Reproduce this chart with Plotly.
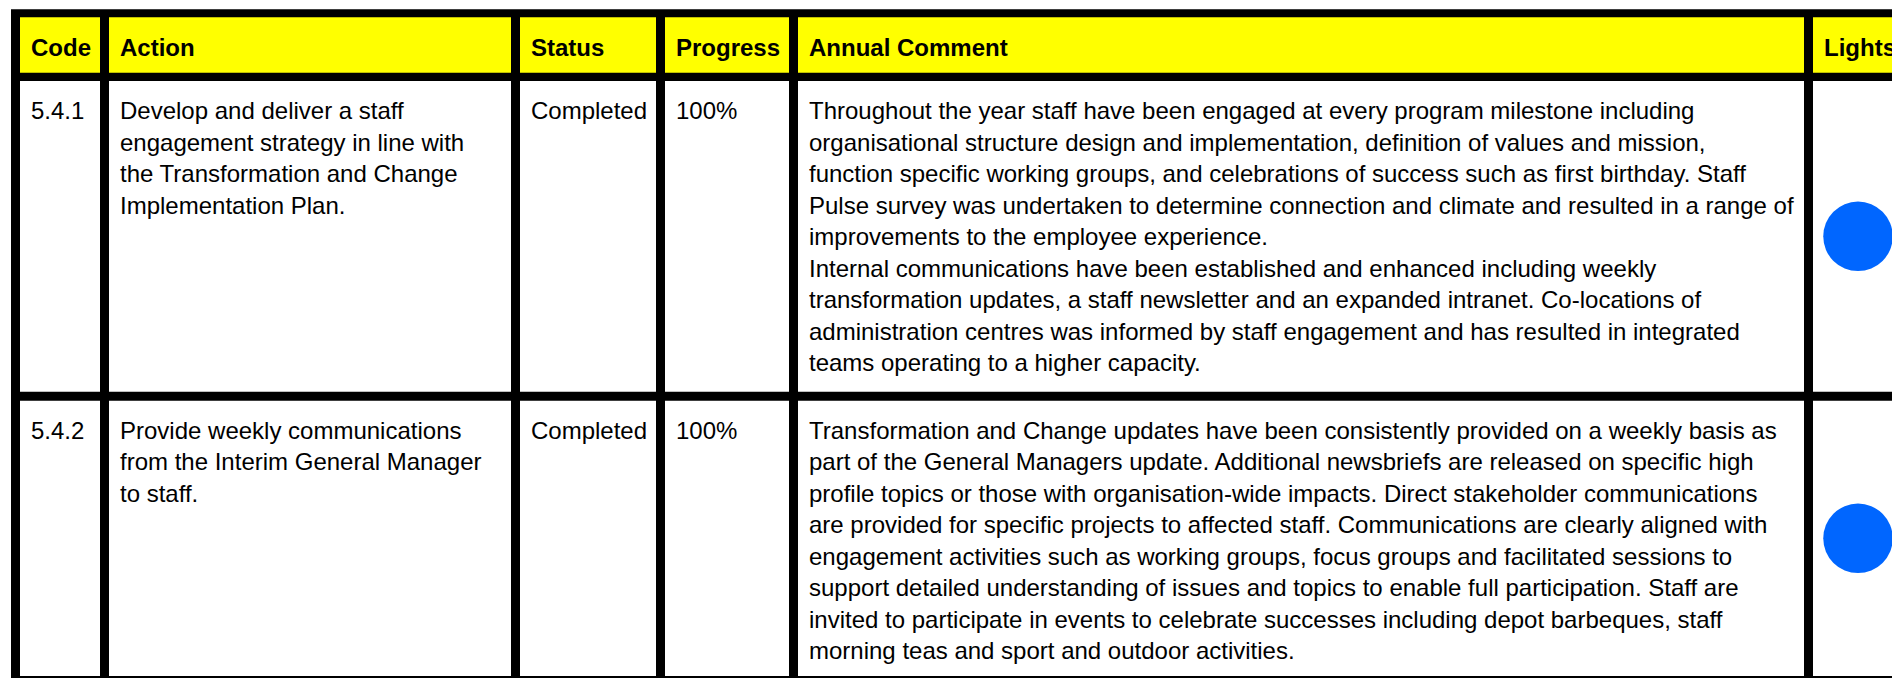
import plotly.graph_objects as go

# ---------------- data ----------------
headers = ["Code", "Action", "Status", "Progress", "Annual Comment", "Lights"]

codes = ["5.4.1", "5.4.2"]

actions = [
    ["Develop and deliver a staff",
     "engagement strategy in line with",
     "the Transformation and Change",
     "Implementation Plan."],
    ["Provide weekly communications",
     "from the Interim General Manager",
     "to staff."],
]

statuses = ["Completed", "Completed"]
progress = ["100%", "100%"]

comments = [
    ["Throughout the year staff have been engaged at every program milestone including",
     "organisational structure design and implementation, definition of values and mission,",
     "function specific working groups, and celebrations of success such as first birthday. Staff",
     "Pulse survey was undertaken to determine connection and climate and resulted in a range of",
     "improvements to the employee experience.",
     "Internal communications have been established and enhanced including weekly",
     "transformation updates, a staff newsletter and an expanded intranet. Co-locations of",
     "administration centres was informed by staff engagement and has resulted in integrated",
     "teams operating to a higher capacity."],
    ["Transformation and Change updates have been consistently provided on a weekly basis as",
     "part of the General Managers update. Additional newsbriefs are released on specific high",
     "profile topics or those with organisation-wide impacts. Direct stakeholder communications",
     "are provided for specific projects to affected staff. Communications are clearly aligned with",
     "engagement activities such as working groups, focus groups and facilitated sessions to",
     "support detailed understanding of issues and topics to enable full participation. Staff are",
     "invited to participate in events to celebrate successes including depot barbeques, staff",
     "morning teas and sport and outdoor activities."],
]

lights = ["Blue", "Blue"]

# ---------------- layout constants ----------------
W, H = 1892, 678
col_left = [20, 109, 520, 665, 798, 1813]
col_right = [100, 511, 656, 789, 1804, 2000]
header_top, header_bot = 17.3, 72.7
row_top = [81, 400.7]
row_bot = [391.7, 676]
outer_left, outer_top = 11, 9.3

FONT = "Liberation Sans, Arial, Helvetica, sans-serif"
FS = 24
PAD = 10.7
LINE = 31.5
BASE_OFF = 38.0     # baseline offset from row top
MID = 0.3465 * FS   # baseline - middle of text box

light_colors = {"Blue": "#0066FF"}

shapes = []
# black background forming the grid lines
shapes.append(dict(type="rect", xref="x", yref="y", x0=outer_left, y0=outer_top,
                   x1=2100, y1=800, fillcolor="#000000", line=dict(width=0), layer="below"))
for c in range(len(headers)):
    shapes.append(dict(type="rect", xref="x", yref="y", x0=col_left[c], x1=col_right[c],
                       y0=header_top, y1=header_bot, fillcolor="#FFFF00",
                       line=dict(width=0), layer="below"))
    for r in range(len(codes)):
        shapes.append(dict(type="rect", xref="x", yref="y", x0=col_left[c], x1=col_right[c],
                           y0=row_top[r], y1=row_bot[r], fillcolor="#FFFFFF",
                           line=dict(width=0), layer="below"))

annotations = []


def add_text(x, baseline, text, bold=False):
    annotations.append(dict(
        x=x, y=baseline - MID, xref="x", yref="y", text=("<b>%s</b>" % text) if bold else text,
        showarrow=False, xanchor="left", yanchor="middle", align="left",
        borderpad=0, borderwidth=0,
        font=dict(family=FONT, size=FS, color="#000000")))


header_base = 56.0
for c, h in enumerate(headers):
    add_text(col_left[c] + PAD, header_base, h, bold=True)

for r in range(len(codes)):
    base = row_top[r] + BASE_OFF
    add_text(col_left[0] + PAD, base, codes[r])
    for i, ln in enumerate(actions[r]):
        add_text(col_left[1] + PAD, base + i * LINE, ln)
    add_text(col_left[2] + PAD, base, statuses[r])
    add_text(col_left[3] + PAD, base, progress[r])
    for i, ln in enumerate(comments[r]):
        add_text(col_left[4] + PAD, base + i * LINE, ln)

fig = go.Figure()
fig.add_trace(go.Scatter(
    x=[col_left[5] + 45] * len(codes),
    y=[(row_top[r] + row_bot[r]) / 2 for r in range(len(codes))],
    mode="markers",
    marker=dict(size=69.5, color=[light_colors[l] for l in lights], line=dict(width=0)),
    hoverinfo="skip", showlegend=False, cliponaxis=False))

fig.update_layout(
    width=W, height=H, margin=dict(l=0, r=0, t=0, b=0, pad=0),
    paper_bgcolor="#FFFFFF", plot_bgcolor="#FFFFFF",
    xaxis=dict(range=[0, W], visible=False, fixedrange=True),
    yaxis=dict(range=[H, 0], visible=False, fixedrange=True),
    shapes=shapes, annotations=annotations, showlegend=False,
)

fig.write_html(
    "out.html",
    config={"displayModeBar": False},
    post_script="document.body.style.margin='0';document.body.style.overflow='hidden';",
)
